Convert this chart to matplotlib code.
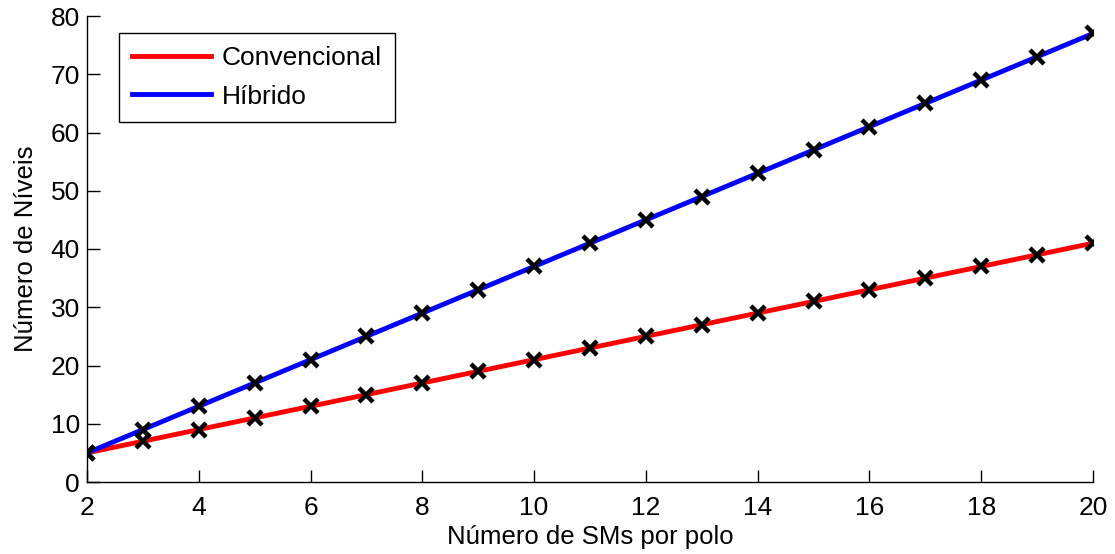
import numpy as np
from matplotlib import pyplot as plt

plt.rcParams['font.family'] = ['Liberation Sans', 'DejaVu Sans']

sms = [2, 3, 4, 5, 6, 7, 8, 9, 10, 11, 12, 13, 14, 15, 16, 17, 18, 19, 20]
convencional = [5, 7, 9, 11, 13, 15, 17, 19, 21, 23, 25, 27, 29, 31, 33, 35, 37, 39, 41]
hibrido = [5, 9, 13, 17, 21, 25, 29, 33, 37, 41, 45, 49, 53, 57, 61, 65, 69, 73, 77]

x_ticks = [2, 4, 6, 8, 10, 12, 14, 16, 18, 20]
y_ticks = [0, 10, 20, 30, 40, 50, 60, 70, 80]


def plot_niveis():
    fig = plt.figure(figsize=(11.15, 5.54), dpi=100)
    ax = fig.add_axes([87 / 1115, 1 - 482 / 554, (1093 - 87) / 1115, (482 - 16) / 554])

    ax.plot(sms, convencional, color='#ff0000', lw=3.5, label='Convencional')
    ax.plot(sms, hibrido, color='#0000ff', lw=3.5, label='Híbrido')
    ax.plot(sms, convencional, 'x', color='black', ms=10, mew=3.2, zorder=3)
    ax.plot(sms, hibrido, 'x', color='black', ms=10, mew=3.2, zorder=3)

    ax.set_xlim(2, 20)
    ax.set_ylim(0, 80)
    ax.set_xticks(x_ticks)
    ax.set_yticks(y_ticks)
    ax.tick_params(direction='in', length=9, width=1, labelsize=19, pad=5)
    ax.tick_params(axis='x', pad=10)
    ax.spines['top'].set_visible(False)
    ax.spines['right'].set_visible(False)
    for s in ('left', 'bottom'):
        ax.spines[s].set_linewidth(1)

    ax.set_xlabel('Número de SMs por polo', fontsize=18.5, labelpad=4)
    ax.set_ylabel('Número de Níveis', fontsize=18.5, labelpad=9)

    leg = ax.legend(loc='upper left', bbox_to_anchor=(32 / 1006, 1 - 17 / 466),
                    fontsize=19, fancybox=False, framealpha=1, edgecolor='black',
                    handlelength=3.0, handletextpad=0.4, borderpad=0.5,
                    labelspacing=0.55, borderaxespad=0)
    leg.get_frame().set_linewidth(1)

    fig.savefig('out.png', dpi=100)


if __name__ == '__main__':
    plot_niveis()
